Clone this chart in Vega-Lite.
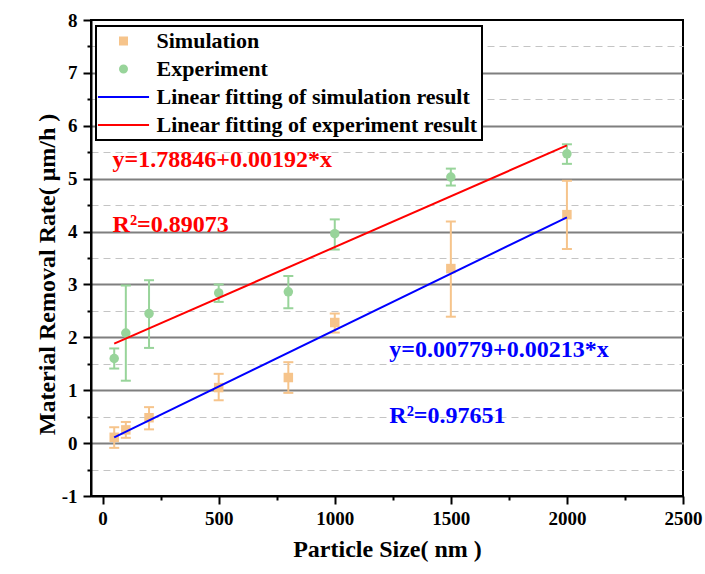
{
  "$schema": "https://vega.github.io/schema/vega-lite/v6.json",
  "width": 592,
  "height": 476,
  "autosize": {"type": "none"},
  "padding": {"left": 91, "top": 20, "right": 22, "bottom": 78},
  "background": "white",
  "config": {
    "view": {"stroke": "black", "strokeWidth": 2},
    "font": "Liberation Serif",
    "axis": {
      "labelFont": "Liberation Serif", "labelFontWeight": "bold", "labelFontSize": 19, "labelColor": "black",
      "titleFont": "Liberation Serif", "titleFontWeight": "bold", "titleFontSize": 24, "titleColor": "black",
      "domainColor": "black", "domainWidth": 2, "tickColor": "black", "tickWidth": 2, "labelFlush": false
    },
    "legend": {
      "orient": "none", "legendX": 5, "legendY": 6,
      "strokeColor": "black", "strokeWidth": 2, "fillColor": "white", "padding": 4,
      "labelFont": "Liberation Serif", "labelFontWeight": "bold", "labelFontSize": 22, "labelColor": "black",
      "labelLimit": 0, "rowPadding": 6, "symbolSize": 49, "symbolStrokeWidth": 2,
      "symbolOffset": 12.5, "labelOffset": 22
    }
  },
  "datasets": {
    "pts": [
      {"size": 50, "mrr": 0.11, "lo": -0.09, "hi": 0.30, "series": "Simulation"},
      {"size": 100, "mrr": 0.25, "lo": 0.10, "hi": 0.40, "series": "Simulation"},
      {"size": 200, "mrr": 0.48, "lo": 0.26, "hi": 0.68, "series": "Simulation"},
      {"size": 500, "mrr": 1.05, "lo": 0.81, "hi": 1.31, "series": "Simulation"},
      {"size": 800, "mrr": 1.24, "lo": 0.95, "hi": 1.53, "series": "Simulation"},
      {"size": 1000, "mrr": 2.28, "lo": 2.09, "hi": 2.45, "series": "Simulation"},
      {"size": 1500, "mrr": 3.30, "lo": 2.39, "hi": 4.19, "series": "Simulation"},
      {"size": 2000, "mrr": 4.32, "lo": 3.67, "hi": 4.96, "series": "Simulation"},
      {"size": 50, "mrr": 1.60, "lo": 1.41, "hi": 1.79, "series": "Experiment"},
      {"size": 100, "mrr": 2.08, "lo": 1.18, "hi": 2.98, "series": "Experiment"},
      {"size": 200, "mrr": 2.45, "lo": 1.80, "hi": 3.08, "series": "Experiment"},
      {"size": 500, "mrr": 2.84, "lo": 2.67, "hi": 3.00, "series": "Experiment"},
      {"size": 800, "mrr": 2.86, "lo": 2.55, "hi": 3.16, "series": "Experiment"},
      {"size": 1000, "mrr": 3.96, "lo": 3.66, "hi": 4.23, "series": "Experiment"},
      {"size": 1500, "mrr": 5.03, "lo": 4.87, "hi": 5.19, "series": "Experiment"},
      {"size": 2000, "mrr": 5.47, "lo": 5.28, "hi": 5.65, "series": "Experiment"}
    ],
    "fits": [
      {"size": 50, "mrr": 0.11, "series": "Linear fitting of simulation result"},
      {"size": 2000, "mrr": 4.27, "series": "Linear fitting of simulation result"},
      {"size": 50, "mrr": 1.88, "series": "Linear fitting of experiment result"},
      {"size": 2000, "mrr": 5.63, "series": "Linear fitting of experiment result"}
    ],
    "notes": [
      {"size": 43, "mrr": 5.225, "label": "y=1.78846+0.00192*x", "series": "Linear fitting of experiment result"},
      {"size": 43, "mrr": 4.0, "label": "R²=0.89073", "series": "Linear fitting of experiment result"},
      {"size": 1235, "mrr": 1.633, "label": "y=0.00779+0.00213*x", "series": "Linear fitting of simulation result"},
      {"size": 1235, "mrr": 0.386, "label": "R²=0.97651", "series": "Linear fitting of simulation result"}
    ]
  },
  "layer": [
    {
      "data": {"name": "pts"},
      "mark": {"type": "rule", "strokeWidth": 2},
      "encoding": {
        "x": {"field": "size", "type": "quantitative", "scale": {"domain": [-50, 2500], "nice": false, "zero": false}, "axis": null},
        "y": {"field": "lo", "type": "quantitative", "scale": {"domain": [-1, 8], "nice": false, "zero": false},
          "axis": {"orient": "left", "values": [0, 1, 2, 3, 4, 5, 6, 7], "grid": true, "gridColor": "#7f7f7f", "gridWidth": 2, "ticks": false, "labels": false, "domain": false, "title": null}},
        "y2": {"field": "hi"},
        "color": {"field": "series", "type": "nominal", "legend": null,
          "scale": {"domain": ["Simulation", "Experiment", "Linear fitting of simulation result", "Linear fitting of experiment result"], "range": ["#F6C48B", "#98D49A", "#0000FF", "#FF0000"]}}
      }
    },
    {
      "data": {"name": "pts"},
      "mark": {"type": "tick", "orient": "horizontal", "size": 10, "thickness": 2, "opacity": 1},
      "encoding": {
        "x": {"field": "size", "type": "quantitative", "scale": {"domain": [-50, 2500], "nice": false, "zero": false}, "axis": null},
        "y": {"field": "lo", "type": "quantitative", "scale": {"domain": [-1, 8], "nice": false, "zero": false}, "axis": null},
        "color": {"field": "series", "type": "nominal", "legend": null,
          "scale": {"domain": ["Simulation", "Experiment", "Linear fitting of simulation result", "Linear fitting of experiment result"], "range": ["#F6C48B", "#98D49A", "#0000FF", "#FF0000"]}}
      }
    },
    {
      "data": {"name": "pts"},
      "mark": {"type": "tick", "orient": "horizontal", "size": 10, "thickness": 2, "opacity": 1},
      "encoding": {
        "x": {"field": "size", "type": "quantitative", "scale": {"domain": [-50, 2500], "nice": false, "zero": false}, "axis": null},
        "y": {"field": "hi", "type": "quantitative", "scale": {"domain": [-1, 8], "nice": false, "zero": false}, "axis": null},
        "color": {"field": "series", "type": "nominal", "legend": null,
          "scale": {"domain": ["Simulation", "Experiment", "Linear fitting of simulation result", "Linear fitting of experiment result"], "range": ["#F6C48B", "#98D49A", "#0000FF", "#FF0000"]}}
      }
    },
    {
      "data": {"name": "pts"},
      "mark": {"type": "point", "filled": true, "opacity": 1, "size": 90},
      "encoding": {
        "x": {"field": "size", "type": "quantitative", "scale": {"domain": [-50, 2500], "nice": false, "zero": false},
          "axis": {"orient": "bottom", "values": [0, 500, 1000, 1500, 2000, 2500], "format": "d", "tickSize": 8, "labelPadding": 5, "grid": false,
            "title": "Particle Size( nm )", "titleBaseline": "middle", "titleY": 53}},
        "y": {"field": "mrr", "type": "quantitative", "scale": {"domain": [-1, 8], "nice": false, "zero": false},
          "axis": {"orient": "left", "values": [-1, 0, 1, 2, 3, 4, 5, 6, 7, 8], "labelExpr": "'' + datum.value", "tickSize": 8, "labelPadding": 6, "grid": false,
            "title": "Material Removal Rate( μm/h )", "titleBaseline": "middle", "titleX": -44, "titleY": 254}},
        "color": {"field": "series", "type": "nominal",
          "scale": {"domain": ["Simulation", "Experiment", "Linear fitting of simulation result", "Linear fitting of experiment result"], "range": ["#F6C48B", "#98D49A", "#0000FF", "#FF0000"]},
          "legend": {"title": null, "symbolStrokeColor": {"expr": "scale('color', datum.value)"}, "encode": {"symbols": {"stroke": {"value": {"expr": "scale('color', datum.value)"}}, "strokeWidth": {"value": 2}}}}},
        "shape": {"field": "series", "type": "nominal",
          "scale": {"domain": ["Simulation", "Experiment", "Linear fitting of simulation result", "Linear fitting of experiment result"], "range": ["square", "circle", "M-7.3,0H7.3", "M-7.3,0H7.3"]},
          "legend": {"title": null, "symbolStrokeColor": {"expr": "scale('color', datum.value)"}, "encode": {"symbols": {"stroke": {"value": {"expr": "scale('color', datum.value)"}}, "strokeWidth": {"value": 2}}}}}
      }
    },
    {
      "data": {"name": "fits"},
      "mark": {"type": "line", "strokeWidth": 2},
      "encoding": {
        "x": {"field": "size", "type": "quantitative", "scale": {"domain": [-50, 2500], "nice": false, "zero": false},
          "axis": {"orient": "bottom", "values": [250, 750, 1250, 1750, 2250], "tickSize": 4, "labels": false, "domain": false, "grid": false, "title": null}},
        "y": {"field": "mrr", "type": "quantitative", "scale": {"domain": [-1, 8], "nice": false, "zero": false},
          "axis": {"orient": "left", "values": [-0.5, 0.5, 1.5, 2.5, 3.5, 4.5, 5.5, 6.5, 7.5], "tickSize": 4, "labels": false, "domain": false, "grid": true, "gridColor": "#c4c4c4", "gridDash": [7, 5], "gridWidth": 1, "title": null}},
        "color": {"field": "series", "type": "nominal", "legend": null,
          "scale": {"domain": ["Simulation", "Experiment", "Linear fitting of simulation result", "Linear fitting of experiment result"], "range": ["#F6C48B", "#98D49A", "#0000FF", "#FF0000"]}}
      }
    },
    {
      "data": {"name": "notes"},
      "mark": {"type": "text", "align": "left", "baseline": "alphabetic", "font": "Liberation Serif", "fontWeight": "bold", "fontSize": 24},
      "encoding": {
        "x": {"field": "size", "type": "quantitative", "scale": {"domain": [-50, 2500], "nice": false, "zero": false}, "axis": null},
        "y": {"field": "mrr", "type": "quantitative", "scale": {"domain": [-1, 8], "nice": false, "zero": false}, "axis": null},
        "text": {"field": "label"},
        "color": {"field": "series", "type": "nominal", "legend": null,
          "scale": {"domain": ["Simulation", "Experiment", "Linear fitting of simulation result", "Linear fitting of experiment result"], "range": ["#F6C48B", "#98D49A", "#0000FF", "#FF0000"]}}
      }
    }
  ],
  "resolve": {"axis": {"x": "independent", "y": "independent"}, "legend": {"color": "independent", "shape": "independent"}}
}
